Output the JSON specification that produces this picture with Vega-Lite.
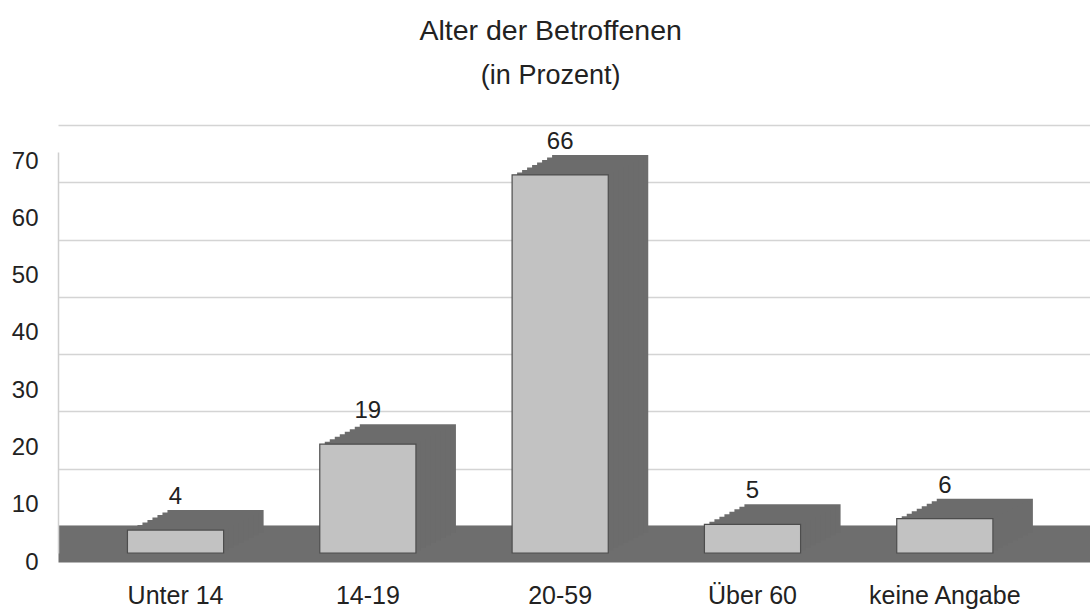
{
  "$schema": "https://vega.github.io/schema/vega-lite/v6.json",
  "width": 1032,
  "height": 401,
  "autosize": {"type": "none"},
  "padding": {"left": 58, "top": 152, "right": 0, "bottom": 57},
  "background": "white",
  "view": {"stroke": null},
  "title": {
    "text": "Alter der Betroffenen",
    "subtitle": "(in Prozent)",
    "anchor": "middle",
    "frame": "bounds",
    "font": "Liberation Sans",
    "fontSize": 28.5,
    "fontWeight": "normal",
    "color": "#222222",
    "subtitleFont": "Liberation Sans",
    "subtitleFontSize": 27,
    "subtitleColor": "#222222",
    "subtitlePadding": 17,
    "offset": 41
  },
  "data": {
    "values": [
      {"Alter": "Unter 14", "Prozent": 4},
      {"Alter": "14-19", "Prozent": 19},
      {"Alter": "20-59", "Prozent": 66},
      {"Alter": "Über 60", "Prozent": 5},
      {"Alter": "keine Angabe", "Prozent": 6}
    ]
  },
  "encoding": {
    "x": {
      "field": "Alter",
      "type": "nominal",
      "sort": null,
      "scale": {"paddingInner": 0.5, "paddingOuter": 0.433, "align": 0.417},
      "axis": {
        "title": null,
        "labelAngle": 0,
        "labelFont": "Liberation Sans",
        "labelFontSize": 25,
        "labelColor": "#222222",
        "ticks": false,
        "tickSize": 0,
        "domainColor": "#6e6e6e",
        "domainWidth": 37,
        "domainCap": "butt",
        "offset": -9.5,
        "labelPadding": 40,
        "grid": false
      }
    },
    "y": {
      "field": "Prozent",
      "type": "quantitative",
      "scale": {"domain": [0, 70], "nice": false},
      "axis": {
        "title": null,
        "values": [0, 10, 20, 30, 40, 50, 60, 70],
        "labelFont": "Liberation Sans",
        "labelFontSize": 24,
        "labelColor": "#222222",
        "ticks": false,
        "tickSize": 0,
        "labelPadding": 20,
        "domainColor": "#cfcfcf",
        "domainWidth": 1.5,
        "gridColor": "#d4d4d4",
        "gridWidth": 1.5,
        "tickOffset": -27,
        "labelOffset": 36
      }
    }
  },
  "layer": [
    {"mark": {"type": "bar", "color": "#6c6c6c", "xOffset": 40, "x2Offset": 40, "yOffset": -20, "y2Offset": -20}},
    {"mark": {"type": "bar", "color": "#6c6c6c", "xOffset": 35, "x2Offset": 35, "yOffset": -17.5, "y2Offset": -17.5}},
    {"mark": {"type": "bar", "color": "#6c6c6c", "xOffset": 30, "x2Offset": 30, "yOffset": -15, "y2Offset": -15}},
    {"mark": {"type": "bar", "color": "#6c6c6c", "xOffset": 25, "x2Offset": 25, "yOffset": -12.5, "y2Offset": -12.5}},
    {"mark": {"type": "bar", "color": "#6c6c6c", "xOffset": 20, "x2Offset": 20, "yOffset": -10, "y2Offset": -10}},
    {"mark": {"type": "bar", "color": "#6c6c6c", "xOffset": 15, "x2Offset": 15, "yOffset": -7.5, "y2Offset": -7.5}},
    {"mark": {"type": "bar", "color": "#6c6c6c", "xOffset": 10, "x2Offset": 10, "yOffset": -5, "y2Offset": -5}},
    {"mark": {"type": "bar", "color": "#6c6c6c", "xOffset": 5, "x2Offset": 5, "yOffset": -2.5, "y2Offset": -2.5}},
    {"mark": {"type": "bar", "color": "#c2c2c2", "stroke": "#4d4d4d", "strokeWidth": 1.2}},
    {
      "mark": {"type": "text", "font": "Liberation Sans", "fontSize": 24, "color": "#222222", "baseline": "middle", "dy": -33},
      "encoding": {"text": {"field": "Prozent", "type": "quantitative"}}
    }
  ]
}
